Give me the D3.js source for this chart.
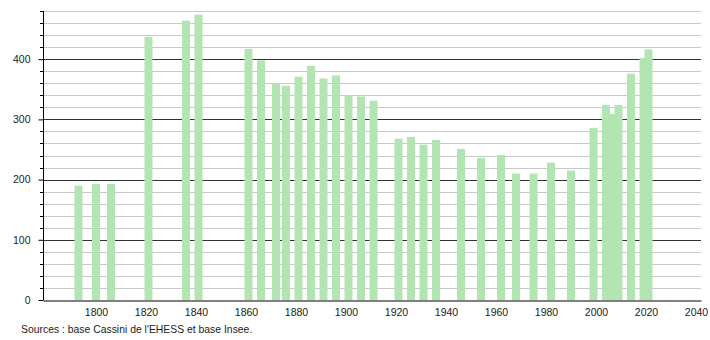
<!DOCTYPE html>
<html>
<head>
<meta charset="utf-8">
<script src="https://cdn.jsdelivr.net/npm/d3@7"></script>
<style>
  body { margin: 0; background: #fff; }
  svg { display: block; font-family: "Liberation Sans", Arial, sans-serif; }
</style>
</head>
<body>
<svg id="chart" width="710" height="340"></svg>
<script>
const years = [1793, 1800, 1806, 1821, 1836, 1841, 1861, 1866, 1872, 1876, 1881, 1886, 1891, 1896,
  1901, 1906, 1911, 1921, 1926, 1931, 1936, 1946, 1954, 1962, 1968, 1975, 1982, 1990, 1999,
  2004, 2007, 2009, 2014, 2019, 2021];
const population = [190, 193, 193, 437, 464, 474, 417, 398, 360, 356, 371, 389, 368, 373,
  340, 338, 331, 268, 271, 258, 266, 251, 236, 241, 210, 210, 228, 215, 286,
  324, 309, 324, 376, 402, 416];
const xTicks = [1800, 1820, 1840, 1860, 1880, 1900, 1920, 1940, 1960, 1980, 2000, 2020, 2040];
const yTicks = [0, 100, 200, 300, 400];
const source = "Sources : base Cassini de l'EHESS et base Insee.";

const data = years.map((yr, i) => ({ year: yr, value: population[i] }));

const svg = d3.select("#chart");
const plotLeft = 43, plotRight = 701, plotTop = 11, plotBottom = 300;

const x = d3.scaleLinear().domain([1778.8, 2042]).range([plotLeft, plotRight]);
const y = d3.scaleLinear().domain([0, 480]).range([plotBottom, plotTop]);

// gridlines: light every 20, dark every 100
svg.append("g")
  .selectAll("line")
  .data(d3.range(20, 481, 20))
  .enter()
  .append("line")
  .attr("x1", plotLeft)
  .attr("x2", plotRight)
  .attr("y1", d => Math.round(y(d)) + 0.5)
  .attr("y2", d => Math.round(y(d)) + 0.5)
  .attr("stroke", d => d % 100 === 0 ? "#333" : "#c8c8c8")
  .attr("stroke-width", 1);

// bars
const barW = 8;
svg.append("g")
  .selectAll("rect")
  .data(data)
  .enter()
  .append("rect")
  .attr("x", d => x(d.year) - barW / 2)
  .attr("y", d => y(d.value))
  .attr("width", barW)
  .attr("height", d => plotBottom - y(d.value))
  .attr("fill", "#b3e5b3");

// y axis
const yAxis = svg.append("g")
  .attr("transform", `translate(${plotLeft + 0.5},0)`)
  .call(d3.axisLeft(y).tickValues(yTicks).tickSize(5).tickPadding(8).tickFormat(d3.format("d")));
yAxis.select(".domain").attr("stroke", "#000").attr("d", `M0,${plotTop}V${plotBottom}`);
yAxis.selectAll(".tick text").attr("font-size", "10.5px").attr("fill", "#222")
  .attr("font-family", "'Liberation Sans', Arial, sans-serif");

svg.append("g")
  .selectAll("line")
  .data(d3.range(20, 481, 20).filter(d => d % 100 !== 0))
  .enter()
  .append("line")
  .attr("x1", plotLeft - 3)
  .attr("x2", plotLeft)
  .attr("y1", d => Math.round(y(d)) + 0.5)
  .attr("y2", d => Math.round(y(d)) + 0.5)
  .attr("stroke", "#000");

// x axis
const xAxis = svg.append("g")
  .attr("transform", `translate(0,${plotBottom + 0.5})`)
  .call(d3.axisBottom(x).tickValues(xTicks).tickSize(0).tickPadding(8).tickFormat(d3.format("d")));
xAxis.select(".domain").attr("stroke", "#000");
xAxis.selectAll(".tick text").attr("font-size", "10.5px").attr("fill", "#222")
  .attr("font-family", "'Liberation Sans', Arial, sans-serif");

svg.append("text")
  .attr("x", 21)
  .attr("y", 333)
  .attr("font-size", "10.4px")
  .attr("fill", "#222")
  .text(source);
</script>
</body>
</html>
